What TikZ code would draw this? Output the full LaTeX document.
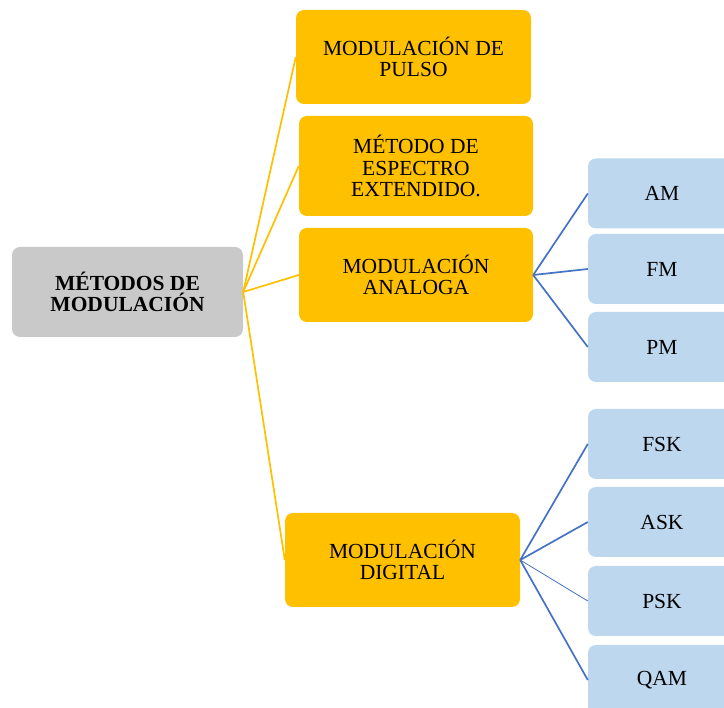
\documentclass[tikz,border=0pt]{standalone}
\usepackage{fontspec}
\setmainfont{Liberation Serif}
\usetikzlibrary{positioning}
\definecolor{modGray}{RGB}{201,201,201}
\definecolor{modGold}{RGB}{255,192,0}
\definecolor{modBlue}{RGB}{189,215,238}
\definecolor{linkBlue}{RGB}{68,114,196}

\begin{document}
\begin{tikzpicture}[x=1pt, y=-1pt,
  every node/.style={font=\fontsize{21.5}{21.5}\selectfont, align=center, inner sep=0pt, rounded corners=8pt},
  rootbox/.style={fill=modGray, minimum width=231pt, minimum height=90pt, font=\fontsize{21.5}{21.5}\selectfont\bfseries},
  goldbox/.style={fill=modGold, minimum width=235pt, minimum height=94pt},
  bluebox/.style={fill=modBlue, minimum width=148pt, minimum height=70pt},
  goldlink/.style={modGold, line width=1.7pt},
  bluelink/.style={linkBlue, line width=1.7pt}]
  \useasboundingbox (0,0) rectangle (724,708);
  \node[rootbox] (root) at (127.5,292) {MÉTODOS DE\\MODULACIÓN};
  \node[goldbox] (pulso) at (413.5,57) {MODULACIÓN DE\\PULSO};
  \node[goldbox, minimum width=234pt, minimum height=100pt] (espectro) at (416,166) {MÉTODO DE\\ESPECTRO\\EXTENDIDO.};
  \node[goldbox, minimum width=234pt] (analoga) at (416,275) {MODULACIÓN\\ANALOGA};
  \node[goldbox] (digital) at (402.5,560) {MODULACIÓN\\DIGITAL};
  \node[bluebox] (am) at (662,193.5) {AM};
  \node[bluebox] (fm) at (662,269) {FM};
  \node[bluebox] (pm) at (662,347) {PM};
  \node[bluebox] (fsk) at (662,444) {FSK};
  \node[bluebox] (ask) at (662,522) {ASK};
  \node[bluebox] (psk) at (662,601) {PSK};
  \node[bluebox] (qam) at (662,680) {QAM};
  % Links
  \draw[goldlink] (root.east) -- (pulso.west);
  \draw[goldlink] (root.east) -- (espectro.west);
  \draw[goldlink] (root.east) -- (analoga.west);
  \draw[goldlink] (root.east) -- (digital.west);
  \draw[bluelink] (analoga.east) -- (am.west);
  \draw[bluelink] (analoga.east) -- (fm.west);
  \draw[bluelink] (analoga.east) -- (pm.west);
  \draw[bluelink] (digital.east) -- (fsk.west);
  \draw[bluelink] (digital.east) -- (ask.west);
  \draw[bluelink, line width=0.8pt] (digital.east) -- (psk.west);
  \draw[bluelink] (digital.east) -- (qam.west);
\end{tikzpicture}
\end{document}
